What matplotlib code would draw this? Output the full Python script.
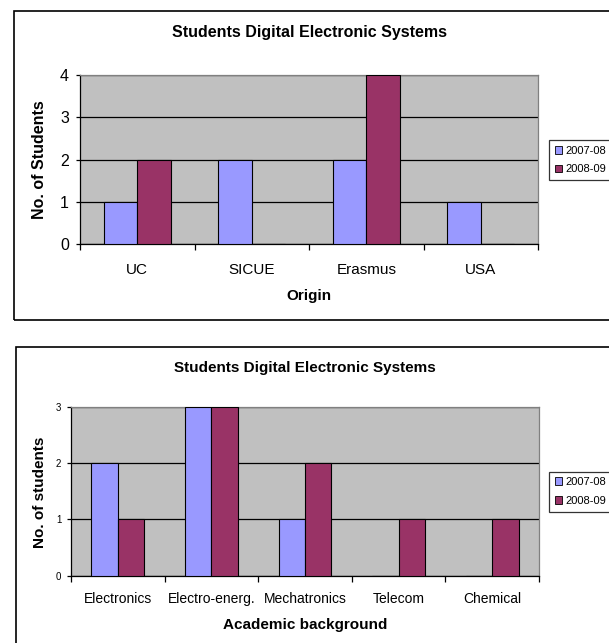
import numpy as np
import matplotlib
matplotlib.use('Agg')
import matplotlib.pyplot as plt
from matplotlib.patches import Rectangle, Patch

plt.rcParams['font.family'] = ['Liberation Sans', 'DejaVu Sans']

# data
title = 'Students Digital Electronic Systems'
series = ['2007-08', '2008-09']

origin_cats = ['UC', 'SICUE', 'Erasmus', 'USA']
origin_0708 = [1, 2, 2, 1]
origin_0809 = [2, 0, 4, 0]

bg_cats = ['Electronics', 'Electro-energ.', 'Mechatronics', 'Telecom', 'Chemical']
bg_0708 = [2, 3, 1, 0, 0]
bg_0809 = [1, 3, 2, 1, 1]

BLUE = '#9999ff'
RED = '#993366'
PLOT_BG = '#c0c0c0'

W, H = 609, 643
fig = plt.figure(figsize=(W / 100, H / 100), dpi=100)
fig.patch.set_facecolor('white')


def fx(x):
    return x / W


def fy(y):
    return 1 - y / H


# chart frames (cut off on the right / bottom like the source)
fig.patches.append(Rectangle((fx(14), fy(320)), 1.2, (320 - 11) / H,
                             transform=fig.transFigure, fill=False,
                             edgecolor='black', linewidth=1.2))
fig.patches.append(Rectangle((fx(16), fy(700)), 1.2, (700 - 347) / H,
                             transform=fig.transFigure, fill=False,
                             edgecolor='black', linewidth=1.2))


def draw_chart(rect, cats, v1, v2, ymax, ytick_fs, xtick_fs,
               ytick_pad, xtick_pad, bar_w):
    ax = fig.add_axes(rect)
    ax.set_facecolor(PLOT_BG)
    x = np.arange(len(cats))
    ax.bar(x - bar_w / 2, v1, bar_w, color=BLUE, edgecolor='black', linewidth=0.8, zorder=3)
    ax.bar(x + bar_w / 2, v2, bar_w, color=RED, edgecolor='black', linewidth=0.8, zorder=3)
    ax.set_xlim(-0.5, len(cats) - 0.5)
    ax.set_ylim(0, ymax)
    ax.set_yticks(range(ymax + 1))
    ax.yaxis.grid(True, color='black', linewidth=0.9, zorder=1)
    ax.set_axisbelow(True)
    ax.set_xticks(x)
    ax.set_xticklabels(cats, fontsize=xtick_fs)
    ax.set_xticks(np.arange(len(cats) + 1) - 0.5, minor=True)
    ax.tick_params(axis='x', which='major', length=0, pad=xtick_pad)
    ax.tick_params(axis='x', which='minor', length=4, width=0.9, direction='out')
    ax.tick_params(axis='y', length=3, width=0.9, direction='out',
                   labelsize=ytick_fs, pad=ytick_pad)
    for s in ['top', 'right']:
        ax.spines[s].set_color('#808080')
        ax.spines[s].set_linewidth(0.9)
    for s in ['left', 'bottom']:
        ax.spines[s].set_color('black')
        ax.spines[s].set_linewidth(0.9)
    return ax


ax1 = draw_chart([fx(80), fy(244), (538 - 80) / W, (244 - 75) / H],
                 origin_cats, origin_0708, origin_0809, 4,
                 11.5, 11, 5, 14, 0.293)
ax2 = draw_chart([fx(71), fy(575.7), (539 - 71) / W, (575.7 - 407) / H],
                 bg_cats, bg_0708, bg_0809, 3,
                 7, 10, 4, 12, 0.283)

# titles and axis labels
fig.text(fx(310), fy(32), title, ha='center', va='center', fontsize=11.5, fontweight='bold')
fig.text(fx(305), fy(368), title, ha='center', va='center', fontsize=11, fontweight='bold')
fig.text(fx(309), fy(296), 'Origin', ha='center', va='center', fontsize=11, fontweight='bold')
fig.text(fx(305), fy(625), 'Academic background', ha='center', va='center', fontsize=11, fontweight='bold')
fig.text(fx(39), fy(160), 'No. of Students', ha='center', va='center', rotation=90,
         fontsize=11.5, fontweight='bold')
fig.text(fx(40), fy(492), 'No. of students', ha='center', va='center', rotation=90,
         fontsize=11, fontweight='bold')

# legends
handles = [Patch(facecolor=BLUE, edgecolor='black', linewidth=0.6),
           Patch(facecolor=RED, edgecolor='black', linewidth=0.6)]
for cy in (160, 491.5):
    leg = fig.legend(handles, series, loc='center left',
                     bbox_to_anchor=(fx(549), fy(cy)), fontsize=8,
                     frameon=True, fancybox=False, edgecolor='black',
                     handlelength=0.7, handleheight=0.7, handletextpad=0.3,
                     borderpad=0.5, labelspacing=0.8, borderaxespad=0)
    leg.get_frame().set_linewidth(0.9)

fig.savefig('out.png', dpi=100)
